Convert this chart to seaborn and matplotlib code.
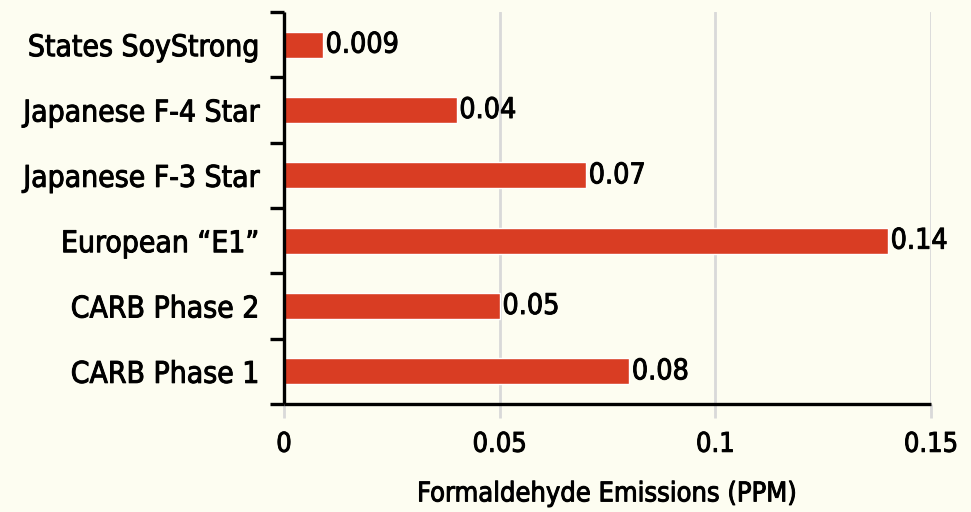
import matplotlib
matplotlib.use('Agg')
import matplotlib.pyplot as plt
import matplotlib.patheffects as pe
import seaborn as sns
import pandas as pd
import numpy as np

categories = ['States SoyStrong', 'Japanese F-4 Star', 'Japanese F-3 Star',
              'European “E1”', 'CARB Phase 2', 'CARB Phase 1']
values = [0.009, 0.04, 0.07, 0.14, 0.05, 0.08]
value_labels = ['0.009', '0.04', '0.07', '0.14', '0.05', '0.08']
xticks = [0, 0.05, 0.1, 0.15]
xtick_labels = ['0', '0.05', '0.1', '0.15']
xlabel = 'Formaldehyde Emissions (PPM)'

sns.set_theme(style='white')
plt.rcParams['font.family'] = ['DejaVu Sans']
plt.rcParams['font.stretch'] = 'condensed'

bg = '#FDFDF1'
bar_color = '#D93D23'
thick = [pe.withStroke(linewidth=0.7, foreground='black')]

fig = plt.figure(figsize=(9.71, 5.12), dpi=100, facecolor=bg)
ax = fig.add_axes([284 / 971, 1 - 404 / 512, (931 - 284) / 971, (404 - 12) / 512])
ax.set_facecolor(bg)

df = pd.DataFrame({'cat': categories, 'val': values})
sns.barplot(data=df, x='val', y='cat', orient='h', color=bar_color, width=0.4,
            saturation=1, ax=ax, order=categories)

ax.set_xlim(0, 0.15)
ax.set_ylim(5.5, -0.5)
ax.set_xticks(xticks)
ax.set_xticklabels(xtick_labels)
ax.set_xlabel(xlabel, fontsize=19.5, labelpad=17, color='black', path_effects=thick)
ax.set_ylabel('')

ax.grid(axis='x', color='#D9D9D9', lw=2)
ax.grid(axis='y', visible=False)
ax.set_axisbelow(True)

for s in ['top', 'right', 'left', 'bottom']:
    ax.spines[s].set_visible(False)
# axis lines
ax.plot([0, 0], [0, 1], transform=ax.transAxes, color='black', lw=2.4,
        clip_on=False, zorder=10, solid_capstyle='butt')
ax.plot([0, 1], [0, 0], transform=ax.transAxes, color='black', lw=2.4,
        clip_on=False, zorder=10, solid_capstyle='butt')

ax.tick_params(axis='x', direction='out', length=10, width=2, color='#D9D9D9',
               labelsize=19.5, pad=10, labelcolor='black', bottom=True)
ax.xaxis.get_major_ticks()[0].tick1line.set_color('black')
ax.tick_params(axis='y', which='major', length=0, labelsize=21.5, pad=18, labelcolor='black')
ax.set_yticks(np.arange(-0.5, 6, 1), minor=True)
ax.tick_params(axis='y', which='minor', direction='out', length=10, width=2.4,
               color='black', left=True)

for lbl in ax.get_xticklabels() + ax.get_yticklabels():
    lbl.set_path_effects(thick)

texts = ax.bar_label(ax.containers[0], labels=value_labels, padding=2, fontsize=20.5,
                     color='black')
for t in texts:
    t.set_path_effects(thick)

fig.savefig('out.png', dpi=100, facecolor=bg)
